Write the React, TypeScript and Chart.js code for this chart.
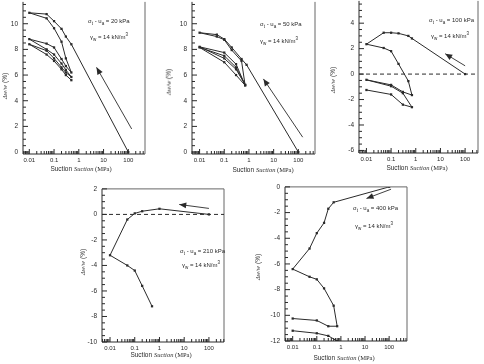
import React, { useEffect, useRef } from 'react';
import { Chart, registerables } from 'chart.js';
Chart.register(...registerables);

// ---------- data (suction in MPa, Δw/w in %) ----------
// Panel 1: σt - ua = 20 kPa
const p1Suction = [100, 0.5, 0.3, 0.2, 0.1, 0.05, 0.01, 0.05, 0.1, 0.2, 0.3, 0.5, 0.3, 0.2, 0.1, 0.05, 0.01, 0.05, 0.1, 0.2, 0.3, 0.5, 0.3, 0.2, 0.1, 0.05, 0.01, 0.05, 0.1, 0.2, 0.3, 0.5];
const p1Strain = [0, 8.4, 9.0, 9.6, 10.2, 10.75, 10.85, 10.42, 9.65, 8.6, 7.3, 6.2, 6.7, 7.25, 8.15, 8.45, 8.8, 8.0, 7.6, 6.9, 6.4, 5.85, 6.2, 6.6, 7.3, 7.9, 8.4, 7.6, 7.1, 6.45, 6.0, 5.6];
// Panel 2: σt - ua = 50 kPa
const p2Suction = [100, 0.8, 0.5, 0.2, 0.1, 0.05, 0.01, 0.05, 0.1, 0.2, 0.5, 0.7, 0.3, 0.1, 0.01, 0.1, 0.3, 0.7, 0.3, 0.1, 0.01, 0.1, 0.3, 0.7];
const p2Strain = [0, 6.8, 7.25, 8.15, 8.8, 9.15, 9.3, 9.0, 8.75, 7.95, 7.1, 5.2, 6.85, 7.75, 8.2, 7.3, 6.45, 5.25, 6.6, 7.5, 8.15, 7.0, 6.0, 5.2];
// Panel 3: σt - ua = 100 kPa
const p3Suction = [100, 0.7, 0.5, 0.2, 0.1, 0.05, 0.01, 0.05, 0.1, 0.2, 0.5, 0.7, 0.3, 0.1, 0.01, 0.1, 0.3, 0.7, 0.3, 0.1, 0.01];
const p3Strain = [0, 2.8, 3.0, 3.2, 3.25, 3.25, 2.35, 2.05, 1.8, 0.8, -0.55, -1.65, -1.4, -0.85, -0.45, -0.95, -1.5, -2.6, -2.4, -1.6, -1.25];
// Panel 4: σt - ua = 210 kPa
const p4Suction = [100, 1, 0.2, 0.1, 0.05, 0.01, 0.05, 0.1, 0.2, 0.5];
const p4Strain = [0, 0.44, 0.25, 0.08, -0.4, -3.2, -4.0, -4.4, -5.6, -7.2];
// Panel 5: σt - ua = 400 kPa
const p5Suction = [100, 0.5, 0.3, 0.2, 0.1, 0.05, 0.01, 0.05, 0.1, 0.2, 0.5, 0.7, 0.3, 0.1, 0.01];
const p5Strain = [0, -1.2, -1.7, -2.8, -3.6, -4.8, -6.4, -7.0, -7.2, -7.9, -9.25, -10.85, -10.85, -10.4, -10.25];
const p5bSuction = [0.01, 0.1, 0.3, 0.7];
const p5bStrain = [-11.2, -11.4, -11.6, -12.0];

const netStress = ['20', '50', '100', '210', '400'];
const xTickLabels = ['0.01', '0.1', '1', '10', '100'];

const zip = (xs: number[], ys: number[]) => xs.map((x, i) => ({ x, y: ys[i] }));

type Cfg = {
  L: number; T: number; R: number; B: number;
  xmin: number; xmax: number; ymin: number; ymax: number;
  series: { x: number; y: number }[][];
  arrow: [number, number, number, number];
  zero: boolean; topBorder: boolean;
  stress: string;
  ann: [number, number, number, number];
  xt: [number, number]; yt: [number, number];
};

const panels: Cfg[] = [
  { L: 23, T: 1, R: 145, B: 153.6, xmin: 0.00556, xmax: 473, ymin: -0.15, ymax: 11.7,
    series: [zip(p1Suction, p1Strain)], arrow: [137, 1.8, 5.2, 6.6], zero: false, topBorder: false,
    stress: netStress[0], ann: [88, 18, 90, 33], xt: [81, 169], yt: [5, 86] },
  { L: 192, T: 1, R: 315, B: 153.6, xmin: 0.00493, xmax: 473, ymin: -0.15, ymax: 11.7,
    series: [zip(p2Suction, p2Strain)], arrow: [150, 1.16, 3.85, 5.7], zero: false, topBorder: false,
    stress: netStress[1], ann: [260, 21, 260, 37], xt: [263, 170], yt: [169, 82] },
  { L: 359, T: 0, R: 478, B: 152.7, xmin: 0.005, xmax: 333, ymin: -6.2, ymax: 5.75,
    series: [zip(p3Suction, p3Strain)], arrow: [100, 0.65, 15.6, 1.6], zero: true, topBorder: false,
    stress: netStress[2], ann: [429, 17, 431, 32], xt: [417, 168], yt: [333, 80] },
  { L: 102, T: 188, R: 224, B: 342, xmin: 0.00474, xmax: 407, ymin: -10, ymax: 2,
    series: [zip(p4Suction, p4Strain)], arrow: [100, 0.47, 6.3, 0.78], zero: true, topBorder: true,
    stress: netStress[3], ann: [180, 248, 182, 261], xt: [161, 354.5], yt: [83, 262] },
  { L: 285, T: 186, R: 407, B: 341, xmin: 0.0048, xmax: 550, ymin: -12, ymax: 0,
    series: [zip(p5Suction, p5Strain), zip(p5bSuction, p5bStrain)], arrow: [120, -0.18, 11.5, -0.9], zero: false, topBorder: true,
    stress: netStress[4], ann: [353, 205, 355, 222], xt: [344, 357.5], yt: [258, 267] },
];

const YW = 24, XH = 14, PADT = 8, PADR = 6;
const INK = '#2a2a2a';
const FONT = "'Liberation Sans', Arial, sans-serif";

const isDecade = (v: number) => Math.abs(Math.log10(v) - Math.round(Math.log10(v))) < 1e-6;

const decor = {
  id: 'decor',
  afterDraw(chart: any, _a: any, opts: any) {
    const { ctx, chartArea: a, scales } = chart;
    const x = scales.x, y = scales.y;
    const seg = (x1: number, y1: number, x2: number, y2: number) => {
      ctx.beginPath(); ctx.moveTo(x1, y1); ctx.lineTo(x2, y2); ctx.stroke();
    };
    ctx.save();
    ctx.strokeStyle = INK; ctx.lineWidth = 1;
    seg(a.left, a.top, a.left, a.bottom);
    seg(a.left, a.bottom, a.right, a.bottom);
    ctx.strokeStyle = '#666';
    seg(a.right, a.top, a.right, a.bottom);
    if (opts.topBorder) seg(a.left, a.top, a.right, a.top);
    ctx.strokeStyle = INK;
    x.ticks.forEach((t: any) => {
      const px = x.getPixelForValue(t.value);
      seg(px, a.bottom, px, a.bottom - (isDecade(t.value) ? 5 : 3));
    });
    y.ticks.forEach((t: any) => {
      const py = y.getPixelForValue(t.value);
      const major = Math.abs(t.value / 2 - Math.round(t.value / 2)) < 1e-6;
      seg(a.left, py, a.left + (major ? 5 : 3), py);
    });
    if (opts.zero) {
      ctx.setLineDash([4, 3]);
      const p0 = y.getPixelForValue(0);
      seg(a.left, p0, a.right, p0);
      ctx.setLineDash([]);
    }
    if (opts.arrow) {
      const [x1, y1, x2, y2] = opts.arrow;
      const ax = x.getPixelForValue(x1), ay = y.getPixelForValue(y1);
      const bx = x.getPixelForValue(x2), by = y.getPixelForValue(y2);
      ctx.lineWidth = 0.9;
      seg(ax, ay, bx, by);
      const ang = Math.atan2(by - ay, bx - ax);
      const hl = 7, hw = 3;
      ctx.fillStyle = INK;
      ctx.beginPath();
      ctx.moveTo(bx, by);
      ctx.lineTo(bx - hl * Math.cos(ang) + hw * Math.sin(ang), by - hl * Math.sin(ang) - hw * Math.cos(ang));
      ctx.lineTo(bx - hl * Math.cos(ang) - hw * Math.sin(ang), by - hl * Math.sin(ang) + hw * Math.cos(ang));
      ctx.closePath(); ctx.fill();
    }
    ctx.restore();
  },
};

function Panel({ cfg }: { cfg: Cfg }) {
  const ref = useRef<HTMLCanvasElement>(null);
  const left = Math.round(cfg.L - YW);
  const top = Math.round(cfg.T - PADT);
  const w = Math.round(cfg.R - cfg.L) + YW + PADR;
  const h = Math.round(cfg.B - cfg.T) + PADT + XH;
  useEffect(() => {
    const chart = new Chart(ref.current as HTMLCanvasElement, {
      type: 'scatter',
      data: {
        datasets: cfg.series.map((s) => ({
          data: s,
          showLine: true,
          borderColor: INK,
          borderWidth: 1,
          backgroundColor: INK,
          pointRadius: 1.6,
          pointStyle: 'rect',
          pointBorderWidth: 0,
          tension: 0,
        })),
      },
      options: {
        animation: false,
        responsive: false,
        layout: { padding: { top: PADT, right: PADR, left: 0, bottom: 0 } },
        plugins: { legend: { display: false }, tooltip: { enabled: false }, decor: { arrow: cfg.arrow, zero: cfg.zero, topBorder: cfg.topBorder } } as any,
        scales: {
          x: {
            type: 'logarithmic',
            min: cfg.xmin, max: cfg.xmax, bounds: 'data',
            grid: { display: false, drawTicks: false },
            border: { display: false },
            afterBuildTicks: (s: any) => {
              const v: { value: number }[] = [];
              for (let e = -3; e <= 3; e++) for (let m = 1; m <= 9; m++) {
                const val = m * Math.pow(10, e);
                if (val >= cfg.xmin && val <= cfg.xmax) v.push({ value: val });
              }
              s.ticks = v;
            },
            afterFit: (s: any) => { s.height = XH; },
            ticks: {
              autoSkip: false, maxRotation: 0, minRotation: 0, padding: 3, color: INK,
              font: { family: FONT, size: 6 },
              callback: (val: any) => {
                const v = Number(val);
                if (!isDecade(v)) return '';
                const e = Math.round(Math.log10(v));
                return e >= -2 && e <= 2 ? xTickLabels[e + 2] : '';
              },
            },
          },
          y: {
            type: 'linear',
            min: cfg.ymin, max: cfg.ymax, bounds: 'data',
            grid: { display: false, drawTicks: false },
            border: { display: false },
            afterBuildTicks: (s: any) => {
              const v: { value: number }[] = [];
              for (let k = Math.ceil(cfg.ymin * 2); k <= Math.floor(cfg.ymax * 2); k++) v.push({ value: k / 2 });
              s.ticks = v;
            },
            afterFit: (s: any) => { s.width = YW; },
            ticks: {
              autoSkip: false, padding: 5, color: INK,
              font: { family: FONT, size: 6.5 },
              callback: (val: any) => {
                const v = Number(val);
                return Math.abs(v / 2 - Math.round(v / 2)) < 1e-6 ? String(Math.round(v)) : '';
              },
            },
          },
        },
      },
      plugins: [decor as any],
    });
    return () => chart.destroy();
  }, []);
  return <canvas ref={ref} width={w} height={h} style={{ position: 'absolute', left, top, width: w, height: h }} />;
}

const txt: React.CSSProperties = { position: 'absolute', fontFamily: FONT, fontSize: 6, lineHeight: 1, color: INK, whiteSpace: 'nowrap' };
const sub: React.CSSProperties = { fontSize: 4.5 };

export default function App() {
  return (
    <div style={{ position: 'absolute', left: 0, top: 0, width: 484, height: 364, background: '#fff', overflow: 'hidden' }}>
      {panels.map((p, i) => (
        <React.Fragment key={i}>
          <Panel cfg={p} />
          <div style={{ ...txt, left: p.ann[0], top: p.ann[1] }}>
            σ<sub style={sub}>t</sub> - u<sub style={sub}>a</sub> = {p.stress} kPa
          </div>
          <div style={{ ...txt, left: p.ann[2], top: p.ann[3] }}>
            γ<sub style={sub}>w</sub> = 14 kN/m<sup style={sub}>3</sup>
          </div>
          <div style={{ ...txt, fontSize: 6.5, left: p.xt[0], top: p.xt[1], transform: 'translate(-50%,-50%)' }}>
            Suction <span style={{ fontFamily: "'Liberation Serif', serif", fontStyle: 'italic' }}>Suction</span>
            <span style={{ fontFamily: "'Liberation Serif', serif" }}> (MPa)</span>
          </div>
          <div style={{ ...txt, fontSize: 6.5, left: p.yt[0], top: p.yt[1], transform: 'translate(-50%,-50%) rotate(-90deg)' }}>
            <span style={{ fontFamily: "'Liberation Serif', serif", fontStyle: 'italic' }}>Δw/w</span> (%)
          </div>
        </React.Fragment>
      ))}
    </div>
  );
}
